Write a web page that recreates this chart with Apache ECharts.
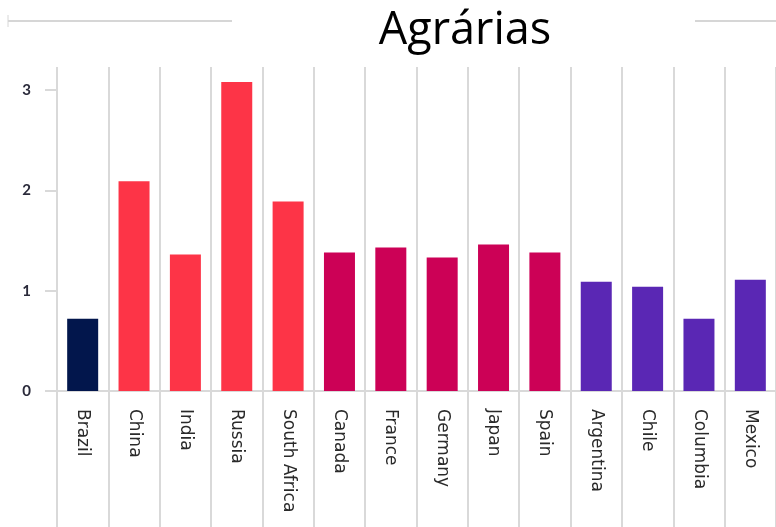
<!DOCTYPE html>
<html>
<head>
<meta charset="utf-8">
<script src="https://cdn.jsdelivr.net/npm/echarts@6/dist/echarts.min.js"></script>
<style>
  html, body { margin: 0; padding: 0; background: #fff; }
  #chart { width: 776px; height: 527px; }
</style>
</head>
<body>
<div id="chart"></div>
<script>
// dados
const countries = ['Brazil', 'China', 'India', 'Russia', 'South Africa', 'Canada', 'France',
  'Germany', 'Japan', 'Spain', 'Argentina', 'Chile', 'Columbia', 'Mexico']
const values = [0.72, 2.09, 1.36, 3.08, 1.89, 1.38, 1.43, 1.33, 1.46, 1.38, 1.09, 1.04, 0.72, 1.11]
const groups = ['brazil', 'brics', 'brics', 'brics', 'brics', 'oecd', 'oecd',
  'oecd', 'oecd', 'oecd', 'latam', 'latam', 'latam', 'latam']
const yTicks = [0, 1, 2, 3]

const groupColors = {
  brazil: '#02164c',
  brics: '#fd3447',
  oecd: '#cc0156',
  latam: '#5a27b4'
}

const chart = echarts.init(document.getElementById('chart'))

const option = {
  animation: false,
  title: {
    text: 'Agrárias',
    left: 460,
    top: 4,
    textAlign: 'center',
    textStyle: {
      fontFamily: 'Open Sans',
      fontWeight: 'normal',
      fontSize: 45,
      color: '#000'
    }
  },
  // linhas decorativas ao lado do título
  graphic: [
    { type: 'line', shape: { x1: 8, y1: 21, x2: 232, y2: 21 }, style: { stroke: '#d6d6d6', lineWidth: 2 } },
    { type: 'line', shape: { x1: 695, y1: 21, x2: 776, y2: 21 }, style: { stroke: '#d6d6d6', lineWidth: 2 } },
    { type: 'line', shape: { x1: 8, y1: 15, x2: 8, y2: 27 }, style: { stroke: '#d6d6d6', lineWidth: 1 } }
  ],
  grid: {
    left: 57,
    top: 67,
    width: 721,
    bottom: 136
  },
  xAxis: {
    type: 'category',
    data: countries,
    boundaryGap: true,
    axisLine: { show: true, lineStyle: { color: '#d9d9d9', width: 2 } },
    axisTick: { show: true, length: 136, lineStyle: { color: '#d9d9d9', width: 2 } },
    splitLine: { show: true, lineStyle: { color: '#d9d9d9', width: 2 } },
    axisLabel: {
      rotate: -90,
      margin: 18,
      fontFamily: 'DejaVu Sans',
      fontSize: 17,
      color: '#2a2a2a',
      interval: 0
    }
  },
  yAxis: {
    type: 'value',
    min: 0,
    max: 3.23,
    interval: 1,
    axisLine: { show: false },
    axisTick: { show: true, length: 12, lineStyle: { color: '#d9d9d9', width: 2 } },
    splitLine: { show: false },
    axisLabel: {
      margin: 26,
      fontFamily: 'Lato',
      fontWeight: 'bold',
      fontSize: 15,
      color: '#2a2a3a',
      showMaxLabel: false,
      formatter: v => (yTicks.includes(v) ? String(v) : '')
    }
  },
  series: [{
    type: 'bar',
    barWidth: 31,
    data: values.map((v, i) => ({
      value: v,
      itemStyle: { color: groupColors[groups[i]] }
    }))
  }]
}

chart.setOption(option)
</script>
</body>
</html>
